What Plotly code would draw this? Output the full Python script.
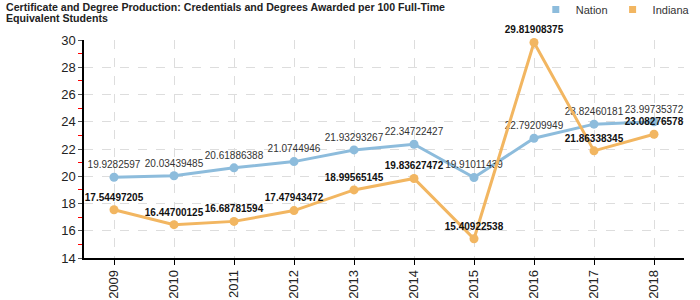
import plotly.graph_objects as go

years = ["2009", "2010", "2011", "2012", "2013", "2014", "2015", "2016", "2017", "2018"]
nation = [19.9282597, 20.03439485, 20.61886388, 21.0744946, 21.93293267, 22.34722427,
          19.91011439, 22.79209949, 23.82460181, 23.99735372]
indiana = [17.54497205, 16.44700125, 16.68781594, 17.47943472, 18.99565145, 19.83627472,
           15.40922538, 29.81908375, 21.86338345, 23.08276578]
title_lines = ["Certificate and Degree Production: Credentials and Degrees Awarded per 100 Full-Time",
               "Equivalent Students"]

nation_color = "#8dbcdc"
indiana_color = "#f2b661"
font_family = "Liberation Sans, Arial, sans-serif"

fig = go.Figure()
fig.add_trace(go.Scatter(
    x=years, y=nation, mode="lines+markers+text", name="Nation",
    line=dict(color=nation_color, width=3), marker=dict(size=9, color=nation_color),
    text=[str(v) for v in nation], textposition="top center",
    textfont=dict(size=10, color="#333333", family=font_family),
    showlegend=False, cliponaxis=False))
fig.add_trace(go.Scatter(
    x=years, y=indiana, mode="lines+markers+text", name="Indiana",
    line=dict(color=indiana_color, width=3), marker=dict(size=9, color=indiana_color),
    text=["<b>%s</b>" % v for v in indiana], textposition="top center",
    textfont=dict(size=10, color="#111111", family=font_family),
    showlegend=False, cliponaxis=False))
for nm, c in [("Nation", nation_color), ("Indiana", indiana_color)]:
    fig.add_trace(go.Scatter(x=[None], y=[None], mode="markers", name=nm,
                             marker=dict(symbol="square", size=7, color=c)))

for i, line in enumerate(title_lines):
    fig.add_annotation(
        text="<b>%s</b>" % line,
        xref="paper", yref="paper", x=-80/600, y=(258 + 1 - 11 * i)/218,
        xanchor="left", yanchor="top", align="left", showarrow=False,
        font=dict(size=10.6, color="#222222", family=font_family))

fig.update_layout(
    width=700, height=300,
    margin=dict(l=84, r=16, t=40, b=42, autoexpand=False),
    paper_bgcolor="white", plot_bgcolor="white",
    font=dict(family=font_family, size=11, color="#222222"),
    legend=dict(orientation="h", x=1.018, xanchor="right", y=(258 + 5)/218, yanchor="top",
                font=dict(size=11, color="#333333"), itemwidth=30,
                tracegroupgap=0, bgcolor="rgba(0,0,0,0)"),
)
fig.update_xaxes(
    type="category", range=[-0.5, 9.5], showline=True, linecolor="black", linewidth=1.5,
    ticks="outside", ticklen=5, tickcolor="black", tickangle=-90, automargin=False,
    showgrid=True, gridcolor="#dddddd", griddash="dash", gridwidth=1,
    tickfont=dict(size=13, color="#222222"), zeroline=False)
fig.update_yaxes(
    range=[14, 30], dtick=2, showline=True, linecolor="black", linewidth=1.5,
    ticks="outside", ticklen=4, tickcolor="#555555", automargin=False,
    showgrid=True, gridcolor="#dddddd", griddash="dash", gridwidth=1,
    tickfont=dict(size=13, color="#222222"), zeroline=False,
    minor=dict(dtick=1, ticks="outside", ticklen=4, tickcolor="red", showgrid=False))

fig.write_html("out.html")
